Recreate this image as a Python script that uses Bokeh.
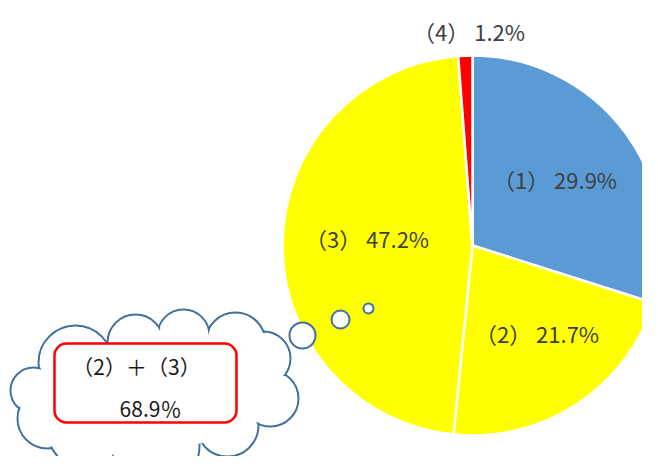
from bokeh.plotting import figure
from bokeh.models import Range1d, ColumnDataSource
from bokeh.core.properties import value
from bokeh.embed import file_html
from bokeh.resources import INLINE

# ---- data ----
categories = ["（1）", "（2）", "（3）", "（4）"]
percents = [29.9, 21.7, 47.2, 1.2]
colors = ["#5B9BD5", "#FFFF00", "#FFFF00", "#FF0000"]
combined_label = "（2）＋（3）"
combined_value = percents[1] + percents[2]

# ---- layout helpers (reference pixel coords -> data coords, y up) ----
W, H = 658, 472
def X(px):
    return px
def Y(py):
    return H - py

FONT = value("Noto Sans CJK JP")

p = figure(width=642, height=456, output_backend="svg", toolbar_location=None,
           x_range=Range1d(0, 642), y_range=Range1d(16, 472), min_border=0)
p.axis.visible = False
p.grid.visible = False
p.outline_line_color = None
p.background_fill_color = "white"

# ---- pie ----
cx, cy, r = X(472), Y(245), 190
total = sum(percents)
starts, ends = [], []
a = 90.0
for v in percents:
    starts.append(a)
    a -= v / total * 360.0
    ends.append(a)
src = ColumnDataSource(dict(start=starts, end=ends, color=colors))
p.wedge(x=cx, y=cy, radius=r, start_angle="start", end_angle="end",
        start_angle_units="deg", end_angle_units="deg", direction="clock",
        fill_color="color", line_color="white", line_width=2.5, source=src)

# labels (positions are layout choices)
label_pos = [(557, 178), (539, 332), (369, 237), (471, 30)]
texts = [f"{c}  {v:.1f}%" for c, v in zip(categories, percents)]
p.text(x=[X(q[0]) for q in label_pos], y=[Y(q[1]) for q in label_pos], text=texts,
       text_align="center", text_baseline="middle", text_font=FONT,
       text_font_size="22px", text_color="#404040")

# ---- cloud callout ----
lobes = [  # (cx, cy, r) in reference pixels
    (75, 362, 37), (33, 390, 23), (47, 418, 30), (85, 430, 38), (155, 445, 44),
    (227, 425, 31), (270, 398, 28), (263, 358, 27), (235, 342, 30),
    (183, 335, 26), (135, 342, 28),
]
cloud_col = "#41719C"
p.circle(x=[X(l[0]) for l in lobes], y=[Y(l[1]) for l in lobes],
         radius=[l[2] for l in lobes], fill_color="white", line_color=cloud_col,
         line_width=2)
p.circle(x=[X(l[0]) for l in lobes], y=[Y(l[1]) for l in lobes],
         radius=[l[2] - 1.6 for l in lobes], fill_color="white", line_color=None)
p.ellipse(x=X(157), y=Y(392), width=230, height=110, fill_color="white", line_color=None)

bubbles = [(302, 335, 13), (340, 319, 9), (368, 308, 5)]
p.circle(x=[X(b[0]) for b in bubbles], y=[Y(b[1]) for b in bubbles],
         radius=[b[2] for b in bubbles], fill_color="white", line_color=cloud_col,
         line_width=2)

# red rounded box
p.quad(left=X(54), right=X(236), top=Y(343), bottom=Y(422), border_radius=12,
       fill_color="white", line_color="#FF0000", line_width=2.5)

p.text(x=[X(136)], y=[Y(365)], text=[combined_label], text_align="center",
       text_baseline="middle", text_font=FONT, text_font_size="21px", text_color="#1a1a1a")
p.text(x=[X(150)], y=[Y(407)], text=[f"{combined_value:.1f}％"], text_align="center",
       text_baseline="middle", text_font=FONT, text_font_size="21px", text_color="#1a1a1a")

open("out.html", "w").write(file_html(p, INLINE))
